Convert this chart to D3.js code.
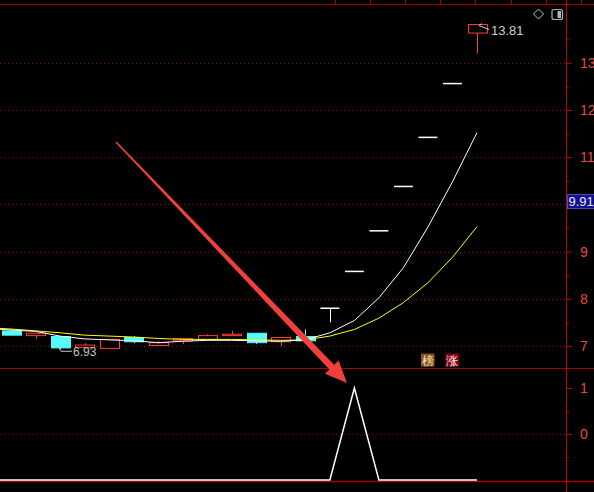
<!DOCTYPE html>
<html>
<head>
<meta charset="utf-8">
<script src="https://cdn.jsdelivr.net/npm/d3@7"></script>
<style>
  html, body { margin: 0; padding: 0; background: #000; overflow: hidden; }
  svg { display: block; }
  text { font-family: "Liberation Sans", Arial, sans-serif; }
</style>
</head>
<body>
<div id="chart"></div>
<script>
// trading days (D0 sits just off the left edge)
const days = ["D0","D1","D2","D3","D4","D5","D6","D7","D8","D9","D10",
              "D11","D12","D13","D14","D15","D16","D17","D18","D19","D20"];
const opens  = [null, 7.32, 7.22, 7.20, 6.97, 6.95, 7.18, 7.01, 7.11, 7.14, 7.22,
                7.27, 7.09, 7.20, 7.80, 8.58, 9.44, 10.38, 11.42, 12.56, 13.63];
const highs  = [null, 7.35, 7.28, 7.20, 7.06, 7.14, 7.21, 7.11, 7.16, 7.25, 7.32,
                7.27, 7.18, 7.35, 7.80, 8.58, 9.44, 10.38, 11.42, 12.56, 13.81];
const lows   = [null, 7.22, 7.15, 6.93, 6.97, 6.95, 7.06, 7.01, 7.04, 7.14, 7.22,
                7.04, 7.00, 7.11, 7.50, 8.58, 9.44, 10.38, 11.42, 12.56, 13.20];
const closes = [null, 7.23, 7.27, 6.96, 7.02, 7.14, 7.09, 7.07, 7.16, 7.22, 7.25,
                7.07, 7.18, 7.11, 7.80, 8.58, 9.44, 10.38, 11.42, 12.56, 13.81];
const ma5    = [7.37, 7.34, 7.31, 7.21, 7.15, 7.13, 7.11, 7.07, 7.10, 7.12, 7.12,
                7.11, 7.10, 7.13, 7.28, 7.54, 8.02, 8.66, 9.52, 10.48, 11.52];
const ma10   = [7.39, 7.36, 7.32, 7.28, 7.23, 7.21, 7.19, 7.16, 7.14, 7.14, 7.14,
                7.13, 7.12, 7.13, 7.21, 7.35, 7.59, 7.92, 8.34, 8.88, 9.53];
const signal = [-1, -1, -1, -1, -1, -1, -1, -1, -1, -1, -1,
                -1, -1, -1, -1, 1, -1, -1, -1, -1, -1];

const priceTicks = [7, 8, 9, 10, 11, 12, 13];
const priceMinor = [7.5, 8.5, 9.5, 10.5, 11.5, 12.5, 13.5];
const subTicks = [0, 1];
const subMinor = [-0.5, 0.5];
const lastLabel = 9.91;
const highMark = { day: "D20", value: 13.81 };
const lowMark = { day: "D3", value: 6.93 };

const W = 594, H = 492;
const axisX = 566;
const mainTop = 5, mainBottom = 368, subBottom = 481;
const borderColor = "#a80000";
const gridColor = "#8c0c0c";
const labelColor = "#e84848";
const upColor = "#ff3c3c";
const downColor = "#54fcfc";

const svg = d3.select("#chart").append("svg")
    .attr("width", W)
    .attr("height", H);

svg.append("rect").attr("width", W).attr("height", H).attr("fill", "#000");

const x = d3.scalePoint().domain(days).range([-13.5, 477]);
const yMain = d3.scaleLinear().domain([7, 13]).range([346, 62.8]);
const ySub = d3.scaleLinear().domain([0, 1]).range([434, 388]);
const bodyW = x.step() * 0.77;

const defs = svg.append("defs");
defs.append("clipPath").attr("id", "clipMain")
    .append("rect").attr("x", 0).attr("y", mainTop).attr("width", axisX).attr("height", mainBottom - mainTop);
defs.append("clipPath").attr("id", "clipSub")
    .append("rect").attr("x", 0).attr("y", mainBottom).attr("width", axisX).attr("height", subBottom - mainBottom);

// dotted grid
svg.append("g").selectAll("line")
    .data(priceTicks).join("line")
    .attr("x1", 0).attr("x2", axisX)
    .attr("y1", d => Math.round(yMain(d)) + 0.5).attr("y2", d => Math.round(yMain(d)) + 0.5)
    .attr("stroke", gridColor).attr("stroke-dasharray", "1,3");
svg.append("line")
    .attr("x1", 0).attr("x2", axisX)
    .attr("y1", Math.round(ySub(0)) + 0.5).attr("y2", Math.round(ySub(0)) + 0.5)
    .attr("stroke", gridColor).attr("stroke-dasharray", "1,3");

// frame
svg.append("line").attr("x1", 0).attr("x2", W).attr("y1", 4.5).attr("y2", 4.5).attr("stroke", borderColor);
svg.append("line").attr("x1", 0).attr("x2", W).attr("y1", mainBottom + 0.5).attr("y2", mainBottom + 0.5).attr("stroke", borderColor);
svg.append("line").attr("x1", 0).attr("x2", W).attr("y1", subBottom + 0.5).attr("y2", subBottom + 0.5).attr("stroke", borderColor).attr("stroke-width", 1.5);
svg.append("line").attr("x1", axisX + 0.5).attr("x2", axisX + 0.5).attr("y1", 0).attr("y2", H).attr("stroke", "#c00000");
svg.append("g").selectAll("line")
    .data(d3.range(335, 590, 35.1)).join("line")
    .attr("x1", d => Math.round(d) + 0.5).attr("x2", d => Math.round(d) + 0.5)
    .attr("y1", 0).attr("y2", 4.5).attr("stroke", borderColor);

// right axes (the 10 label sits under the current value box)
const styleAxis = g => {
    g.select(".domain").remove();
    g.selectAll(".tick line").attr("stroke", "#c00000");
    g.selectAll(".tick text").attr("fill", labelColor).attr("font-size", 14);
};
svg.append("g").attr("transform", `translate(${axisX},0)`)
    .call(d3.axisRight(yMain).tickValues(priceTicks).tickSize(6).tickPadding(8)
        .tickFormat(d => Math.abs(d - lastLabel) < 0.5 ? "" : d3.format("d")(d)))
    .call(styleAxis);
svg.append("g").attr("transform", `translate(${axisX},0)`)
    .call(d3.axisRight(yMain).tickValues(priceMinor).tickSize(3).tickFormat(""))
    .call(styleAxis);
svg.append("g").attr("transform", `translate(${axisX},0)`)
    .call(d3.axisRight(ySub).tickValues(subTicks).tickSize(6).tickPadding(8).tickFormat(d3.format("d")))
    .call(styleAxis);
svg.append("g").attr("transform", `translate(${axisX},0)`)
    .call(d3.axisRight(ySub).tickValues(subMinor).tickSize(3).tickFormat(""))
    .call(styleAxis);

// current value box
const boxY = yMain(lastLabel);
svg.append("rect")
    .attr("x", axisX + 1.5).attr("y", boxY - 14).attr("width", W - axisX).attr("height", 14)
    .attr("fill", "#10108c").attr("stroke", "#6060d0").attr("stroke-width", 0.8);
svg.append("text")
    .attr("x", axisX + 2.5).attr("y", boxY - 2.5)
    .attr("fill", "#e8e8ff").attr("font-size", 13)
    .text(lastLabel.toFixed(2));

// candles
const candleData = days.map((d, i) => ({ day: d, o: opens[i], h: highs[i], l: lows[i], c: closes[i] }))
    .filter(d => d.o !== null);
const colorOf = d => d.c === d.o ? "#ffffff" : (d.c > d.o ? upColor : downColor);

const candles = svg.append("g").attr("clip-path", "url(#clipMain)")
    .selectAll("g").data(candleData).join("g");

candles.append("line")
    .attr("x1", d => Math.round(x(d.day)) + 0.5).attr("x2", d => Math.round(x(d.day)) + 0.5)
    .attr("y1", d => yMain(d.h)).attr("y2", d => yMain(d.l))
    .attr("stroke", colorOf);

candles.filter(d => d.c !== d.o).append("rect")
    .attr("x", d => Math.round(x(d.day) - bodyW / 2) + 0.5)
    .attr("y", d => yMain(Math.max(d.o, d.c)))
    .attr("width", Math.round(bodyW))
    .attr("height", d => Math.max(1, yMain(Math.min(d.o, d.c)) - yMain(Math.max(d.o, d.c))))
    .attr("fill", d => d.c > d.o ? "#000" : downColor)
    .attr("stroke", colorOf);

candles.filter(d => d.c === d.o).append("line")
    .attr("x1", d => x(d.day) - bodyW / 2).attr("x2", d => x(d.day) + bodyW / 2)
    .attr("y1", d => yMain(d.c)).attr("y2", d => yMain(d.c))
    .attr("stroke", "#ffffff").attr("stroke-width", 1.5);

// moving averages
const lineMain = d3.line().x((d, i) => x(days[i])).y(d => yMain(d));
svg.append("path").attr("clip-path", "url(#clipMain)")
    .attr("d", lineMain(ma10)).attr("fill", "none").attr("stroke", "#ffff00").attr("stroke-width", 1);
svg.append("path").attr("clip-path", "url(#clipMain)")
    .attr("d", lineMain(ma5)).attr("fill", "none").attr("stroke", "#ffffff").attr("stroke-width", 1);

// high / low markers
svg.append("path")
    .attr("d", `M${x(highMark.day) + 12},${yMain(highMark.value) + 5} L${x(highMark.day) + 2},${yMain(highMark.value) + 1} l3,-2`)
    .attr("fill", "none").attr("stroke", "#d0d0d0");
svg.append("text")
    .attr("x", x(highMark.day) + 14).attr("y", yMain(highMark.value) + 10)
    .attr("fill", "#d0d0d0").attr("font-size", 13)
    .text(highMark.value.toFixed(2));
svg.append("path")
    .attr("d", `M${x(lowMark.day) + 12},${yMain(lowMark.value) + 2} L${x(lowMark.day) + 1},${yMain(lowMark.value) + 2} l-2,-3.5`)
    .attr("fill", "none").attr("stroke", "#c0c0c0");
svg.append("text")
    .attr("x", x(lowMark.day) + 13).attr("y", yMain(lowMark.value) + 6.5)
    .attr("fill", "#c0c0c0").attr("font-size", 12)
    .text(lowMark.value.toFixed(2));

// badges
const badges = [
    { t: "榜", x0: 421, bg: "#8a5214", fg: "#f4e4c4" },
    { t: "涨", x0: 445.5, bg: "#88001a", fg: "#ffe8e8" }
];
badges.forEach(b => {
    svg.append("rect").attr("x", b.x0).attr("y", 353.5).attr("width", 13.5).attr("height", 13).attr("fill", b.bg);
    svg.append("text").attr("x", b.x0 + 6.75).attr("y", 364.5)
        .attr("text-anchor", "middle").attr("font-size", 11.5)
        .attr("font-family", "Noto Sans CJK SC").attr("fill", b.fg).text(b.t);
});

// signal panel
const lineSub = d3.line().x((d, i) => x(days[i])).y(d => ySub(d));
svg.append("path").attr("clip-path", "url(#clipSub)")
    .attr("d", lineSub(signal)).attr("fill", "none").attr("stroke", "#ffffff").attr("stroke-width", 1.5);

// top-right icons
svg.append("path").attr("d", "M538.5,9 L543.5,14 L538.5,19 L533.5,14 Z")
    .attr("fill", "none").attr("stroke", "#c8c8c8");
svg.append("rect").attr("x", 552).attr("y", 9.5).attr("width", 10.5).attr("height", 10).attr("rx", 2)
    .attr("fill", "none").attr("stroke", "#b4b4b4").attr("stroke-width", 1.2);
svg.append("rect").attr("x", 557.5).attr("y", 11).attr("width", 3.5).attr("height", 7).attr("fill", "#b4b4b4");

// red pointer arrow
const S = [116, 142], T = [347, 383];
const len = Math.hypot(T[0] - S[0], T[1] - S[1]);
const u = [(T[0] - S[0]) / len, (T[1] - S[1]) / len];
const n = [-u[1], u[0]];
const headL = 22, headW = 9.5;
const B = [T[0] - u[0] * headL, T[1] - u[1] * headL];
const pt = (p, k) => [p[0] + n[0] * k, p[1] + n[1] * k];
svg.append("path")
    .attr("d", d3.line()([pt(S, 0.8), pt(B, 3.3), pt(B, headW), T, pt(B, -headW), pt(B, -3.3), pt(S, -0.8)]) + "Z")
    .attr("fill", "#f0403c");
</script>
</body>
</html>
